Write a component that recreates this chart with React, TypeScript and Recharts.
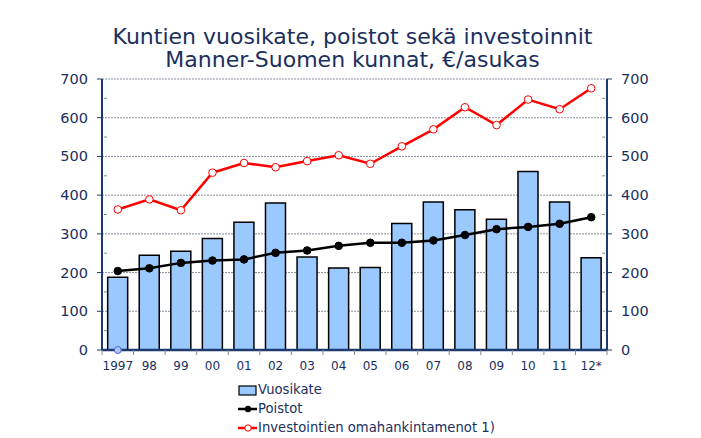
import React from "react";
import {
  ComposedChart,
  Bar,
  Line,
  XAxis,
  YAxis,
  CartesianGrid,
} from "recharts";

const years = ["1997", "98", "99", "00", "01", "02", "03", "04", "05", "06", "07", "08", "09", "10", "11", "12*"];
const vuosikate = [188, 245, 255, 288, 330, 380, 240, 212, 213, 327, 382, 362, 338, 461, 382, 238];
const poistot = [204, 211, 225, 231, 234, 251, 257, 269, 277, 277, 283, 297, 312, 318, 326, 343];
const investoinnit = [363, 389, 361, 458, 483, 472, 488, 503, 481, 526, 570, 627, 581, 647, 622, 676];
const extraPoint = [0, null, null, null, null, null, null, null, null, null, null, null, null, null, null, null];
const yTicks = [0, 50, 100, 150, 200, 250, 300, 350, 400, 450, 500, 550, 600, 650, 700];
const gridValues = [100, 200, 300, 400, 500, 600, 700];

const data = years.map((y, i) => ({
  year: y,
  vuosikate: vuosikate[i],
  poistot: poistot[i],
  invest: investoinnit[i],
  extra: extraPoint[i],
}));

const NAVY = "#1b2f5e";
const AXIS = "#1f3a6e";
const FONT = "'DejaVu Sans', Verdana, sans-serif";

const W = 701;
const H = 438;
const LEFT = 102;
const RIGHT = 607;
const TOP = 79;
const BOTTOM = 350;
const band = (RIGHT - LEFT) / years.length;

const LeftTick = (props: any) => {
  const { x, y, payload } = props;
  const major = payload.value % 100 === 0;
  return (
    <g>
      {major ? (
        <>
          <line x1={x + 3} x2={x + 8} y1={y} y2={y} stroke={AXIS} strokeWidth={1} />
          <text x={x - 6} y={y} dy={5} textAnchor="end" fill={NAVY} fontSize={14.5} fontFamily={FONT}>
            {payload.value}
          </text>
        </>
      ) : (
        <line x1={x + 10} x2={x + 13} y1={y} y2={y} stroke="#888" strokeWidth={1} />
      )}
    </g>
  );
};

const RightTick = (props: any) => {
  const { x, y, payload } = props;
  const major = payload.value % 100 === 0;
  return (
    <g>
      {major ? (
        <>
          <line x1={x - 8} x2={x - 3} y1={y} y2={y} stroke={AXIS} strokeWidth={1} />
          <text x={x + 6} y={y} dy={5} textAnchor="start" fill={NAVY} fontSize={14.5} fontFamily={FONT}>
            {payload.value}
          </text>
        </>
      ) : (
        <line x1={x - 13} x2={x - 10} y1={y} y2={y} stroke="#888" strokeWidth={1} />
      )}
    </g>
  );
};

const XTick = (props: any) => {
  const { x, y, payload, index } = props;
  const isLast = index === years.length - 1;
  return (
    <g>
      <line x1={x - band / 2} x2={x - band / 2} y1={y - 8} y2={y - 3} stroke="#888" strokeWidth={1} />
      {isLast && (
        <line x1={x + band / 2} x2={x + band / 2} y1={y - 8} y2={y - 3} stroke="#888" strokeWidth={1} />
      )}
      <text x={x} y={y} dy={12} textAnchor="middle" fill={NAVY} fontSize={12} fontFamily={FONT}>
        {payload.value}
      </text>
    </g>
  );
};

const LegendBox = () => {
  const row: React.CSSProperties = {
    display: "flex",
    alignItems: "center",
    height: 19,
    color: NAVY,
    fontSize: 13.2,
    fontFamily: FONT,
    whiteSpace: "nowrap",
  };
  return (
    <div style={{ position: "absolute", left: 238, top: 380 }}>
      <div style={row}>
        <svg width={20} height={14}>
          <rect x={1} y={3} width={17} height={9} fill="#99c9ff" stroke="#000" strokeWidth={1.2} />
        </svg>
        <span>Vuosikate</span>
      </div>
      <div style={row}>
        <svg width={20} height={14}>
          <line x1={0} x2={19} y1={7} y2={7} stroke="#000" strokeWidth={2.5} />
          <circle cx={10} cy={7} r={3.2} fill="#000" />
        </svg>
        <span>Poistot</span>
      </div>
      <div style={row}>
        <svg width={20} height={14}>
          <line x1={0} x2={19} y1={7} y2={7} stroke="#ff0000" strokeWidth={2.5} />
          <circle cx={10} cy={7} r={3.2} fill="#fff" stroke="#ff0000" strokeWidth={1} />
        </svg>
        <span>Investointien omahankintamenot 1)</span>
      </div>
    </div>
  );
};

export default function App() {
  return (
    <div style={{ position: "absolute", left: 0, top: 0, width: W, height: H, background: "#fff" }}>
      <div
        style={{
          position: "absolute",
          left: 0,
          top: 25,
          width: 705,
          textAlign: "center",
          color: NAVY,
          fontFamily: "'DejaVu Sans', sans-serif",
          fontSize: 22,
          lineHeight: "23px",
        }}
      >
        <div>Kuntien vuosikate, poistot sekä investoinnit</div>
        <div>Manner-Suomen kunnat, €/asukas</div>
      </div>
      <div style={{ position: "absolute", left: 0, top: 0 }}>
        <ComposedChart
          width={W}
          height={H}
          data={data}
          margin={{ top: TOP, right: W - RIGHT - 40, left: LEFT - 40, bottom: H - BOTTOM - 30 }}
          barCategoryGap="18%"
        >
          <CartesianGrid
            yAxisId="left"
            vertical={false}
            horizontalValues={gridValues}
            stroke="#8a8f9c"
            strokeDasharray="2 1"
            strokeWidth={1}
          />
          <XAxis
            dataKey="year"
            height={30}
            axisLine={{ stroke: AXIS, strokeWidth: 2.5 }}
            tickLine={false}
            tick={(p: any) => <XTick {...p} />}
            interval={0}
          />
          <YAxis
            yAxisId="left"
            orientation="left"
            width={40}
            domain={[0, 700]}
            ticks={yTicks}
            interval={0}
            axisLine={{ stroke: AXIS, strokeWidth: 2 }}
            tickLine={false}
            tick={(p: any) => <LeftTick {...p} />}
          />
          <YAxis
            yAxisId="right"
            orientation="right"
            width={40}
            domain={[0, 700]}
            ticks={yTicks}
            interval={0}
            axisLine={{ stroke: AXIS, strokeWidth: 2 }}
            tickLine={false}
            tick={(p: any) => <RightTick {...p} />}
          />
          <Bar
            yAxisId="left"
            dataKey="vuosikate"
            name="Vuosikate"
            fill="#99c9ff"
            stroke="#000"
            strokeWidth={1.5}
            isAnimationActive={false}
          />
          <Line
            yAxisId="left"
            dataKey="poistot"
            name="Poistot"
            stroke="#000"
            strokeWidth={2.5}
            type="linear"
            dot={{ r: 3.8, fill: "#000", stroke: "#000", strokeWidth: 1 }}
            activeDot={false}
            isAnimationActive={false}
          />
          <Line
            yAxisId="left"
            dataKey="invest"
            name="Investointien omahankintamenot 1)"
            stroke="#ff0000"
            strokeWidth={2.5}
            type="linear"
            dot={{ r: 3.8, fill: "#fff", stroke: "#ff0000", strokeWidth: 1 }}
            activeDot={false}
            isAnimationActive={false}
          />
          <Line
            yAxisId="right"
            dataKey="extra"
            stroke="none"
            legendType="none"
            dot={{ r: 3.5, fill: "#aac8ff", stroke: "#4a64c8", strokeWidth: 1 }}
            activeDot={false}
            isAnimationActive={false}
          />
        </ComposedChart>
      </div>
      <LegendBox />
    </div>
  );
}
